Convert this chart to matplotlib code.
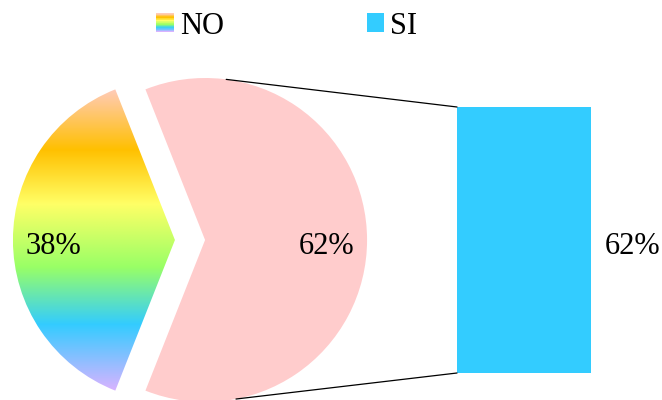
import matplotlib
matplotlib.use('Agg')
import matplotlib.pyplot as plt
import numpy as np
from matplotlib.colors import LinearSegmentedColormap
from matplotlib.patches import ConnectionPatch, Patch, Rectangle
from matplotlib.legend_handler import HandlerBase

plt.rcParams['font.family'] = 'Liberation Serif'

labels = ['NO', 'SI']
shares = [38, 62]
bar_values = [62]

pink = '#FFCCCC'
blue = '#33CCFF'
fontsize = 22

# rainbow fill used for the NO slice and its legend key (top -> bottom)
rainbow_stops = [(0.0, '#FFCBB8'), (0.2, '#FFC000'), (0.38, '#FFFF66'),
                 (0.59, '#99FF66'), (0.78, '#33CCFF'), (1.0, '#D9B3FF')]
rainbow = LinearSegmentedColormap.from_list('rainbow_fill', rainbow_stops)


class GradientHandler(HandlerBase):
    def create_artists(self, legend, orig_handle, xdescent, ydescent, width, height, fontsize, trans):
        n = 30
        stripes = []
        for i in range(n):
            y0 = -ydescent + height * i / n
            c = rainbow(1 - i / (n - 1))
            stripes.append(Rectangle((-xdescent, y0), width, height / n * 1.05,
                                     facecolor=c, edgecolor='none', transform=trans))
        return stripes


fig = plt.figure(figsize=(6.62, 4.0), dpi=100)

# pie on the left
ax1 = fig.add_axes([0, 0, 380 / 662, 320 / 400])
wedges, texts, autotexts = ax1.pie(shares, colors=['none', pink], startangle=111.6,
                                   explode=[0.093, 0.093], autopct='%1.0f%%',
                                   pctdistance=0.75, textprops={'fontsize': fontsize})
for t in autotexts:
    t.set_va('center_baseline')
    x, y = t.get_position()
    t.set_position((x, y - 0.02))

# gradient clipped to the NO slice
no_wedge = wedges[0]
ext = no_wedge.get_path().get_extents()
grad = rainbow(np.linspace(0, 1, 256))[:, None, :3]
im = ax1.imshow(grad, extent=[ext.x0, ext.x1, ext.y0, ext.y1], aspect='auto',
                interpolation='bilinear', origin='upper', zorder=0.5)
im.set_clip_path(no_wedge)

ax1.set_xlim(-190 / 162, 190 / 162)
ax1.set_ylim(-160 / 162, 160 / 162)
ax1.axis('off')

# bar on the right
ax2 = fig.add_axes([457 / 662, 27 / 400, 205 / 662, 266 / 400])
bars = ax2.bar([0], bar_values, width=1, align='edge', color=blue)
ax2.set_xlim(0, 205 / 134)
ax2.set_ylim(0, sum(bar_values))
ax2.axis('off')
for b, v in zip(bars, bar_values):
    ax2.annotate(f'{v}%', xy=(b.get_x() + b.get_width(), b.get_y() + b.get_height() / 2),
                 xytext=(30, -2), textcoords='offset points', ha='center', va='center_baseline',
                 fontsize=fontsize)

# lines from the SI slice to the bar
si = wedges[1]
cx, cy = si.center
r = si.r
bx = bars[0].get_x()
for ang, by in [(82.5, bars[0].get_height()), (-79.0, 0)]:
    pa = (cx + r * np.cos(np.radians(ang)), cy + r * np.sin(np.radians(ang)))
    con = ConnectionPatch(xyA=(bx, by), coordsA=ax2.transData, xyB=pa, coordsB=ax1.transData,
                          color='k', linewidth=0.9)
    fig.add_artist(con)

handles = [Patch(label=labels[0]), Patch(facecolor=blue, label=labels[1])]
fig.legend(handles=handles, loc='center', bbox_to_anchor=(287 / 662, 1 - 26 / 400),
           ncol=2, frameon=False, fontsize=fontsize, handlelength=0.56, handleheight=0.56,
           handletextpad=0.2, columnspacing=4.7,
           handler_map={handles[0]: GradientHandler()})

plt.savefig('out.png', dpi=100)
